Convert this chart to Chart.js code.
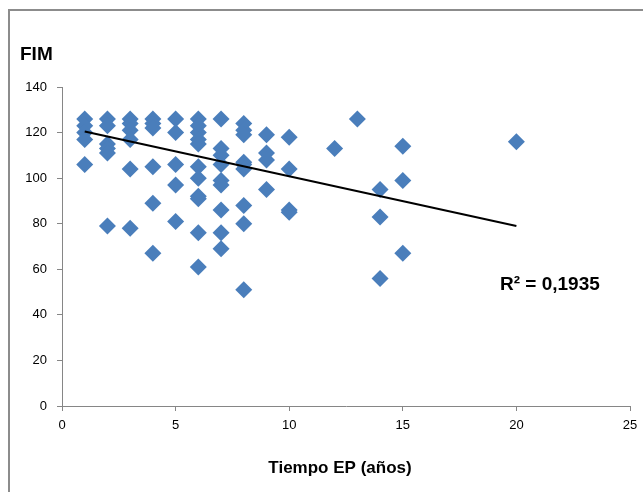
<!DOCTYPE html>
<html>
<head>
<meta charset="utf-8">
<script src="https://cdn.jsdelivr.net/npm/chart.js@4.4.1/dist/chart.umd.min.js"></script>
<style>
  html, body { margin: 0; padding: 0; background: #fff; }
  #wrap { position: relative; width: 643px; height: 492px; overflow: hidden; }
  #frame { position: absolute; left: 8px; top: 9px; width: 700px; height: 600px;
           border-top: 2px solid #8c8c8c; border-left: 2px solid #8c8c8c; }
  canvas { position: absolute; left: 0; top: 0; }
</style>
</head>
<body>
<div id="wrap">
  <div id="frame"></div>
  <canvas id="scatter-chart" width="643" height="492"></canvas>
</div>
<script>
// years since diagnosis (x) and FIM score (y)
const tiempoX = [
  1, 1, 1, 1, 1,
  2, 2, 2, 2, 2, 2,
  3, 3, 3, 3, 3, 3,
  4, 4, 4, 4, 4, 4,
  5, 5, 5, 5, 5,
  6, 6, 6, 6, 6, 6, 6, 6, 6, 6, 6,
  7, 7, 7, 7, 7, 7, 7, 7, 7,
  8, 8, 8, 8, 8, 8, 8, 8, 8,
  9, 9, 9, 9,
  10, 10, 10, 10,
  12, 13,
  14, 14, 14,
  15, 15, 15,
  20
];
const fimY = [
  126, 123, 120, 117, 106,
  126, 123, 115, 113, 111, 79,
  126, 124, 121, 117, 104, 78,
  126, 124, 122, 105, 89, 67,
  126, 120, 106, 97, 81,
  126, 123, 120, 117, 115, 105, 100, 92, 91, 76, 61,
  126, 113, 110, 106, 99, 97, 86, 76, 69,
  124, 121, 119, 107, 106, 104, 88, 80, 51,
  119, 111, 108, 95,
  118, 104, 86, 85,
  113, 126,
  95, 83, 56,
  114, 99, 67,
  116
];
// linear trend line end points
const trendX = [1, 20];
const trendY = [120.5, 79];

const xTicks = [0, 5, 10, 15, 20, 25];
const yTicks = [0, 20, 40, 60, 80, 100, 120, 140];
const r2Label = "R\u00b2 = 0,1935";

const points = tiempoX.map((x, i) => ({ x: x, y: fimY[i] }));
const trend = trendX.map((x, i) => ({ x: x, y: trendY[i] }));

const FONT = '"Liberation Sans Narrow", "Liberation Sans", Arial, sans-serif';
const axisGray = "#868686";

const textPlugin = {
  id: "texts",
  afterDraw(chart) {
    const ctx = chart.ctx;
    ctx.save();
    ctx.fillStyle = "#000";
    ctx.textBaseline = "alphabetic";
    ctx.font = "bold 19px " + FONT;
    ctx.textAlign = "left";
    ctx.fillText("FIM", 20, 60);
    ctx.fillText(r2Label, 500, 290);
    ctx.font = "bold 17px " + FONT;
    ctx.textAlign = "center";
    ctx.fillText("Tiempo EP (a\u00f1os)", 340, 473);
    ctx.restore();
  }
};

const config = {
  type: "scatter",
  data: {
    datasets: [
      {
        label: "FIM",
        data: points,
        pointStyle: "rectRot",
        pointRadius: 8.5,
        pointHoverRadius: 8.5,
        backgroundColor: "#4a7ebb",
        borderColor: "#4a7ebb",
        borderWidth: 0,
        order: 2
      },
      {
        label: "Lineal",
        type: "line",
        data: trend,
        borderColor: "#000",
        borderWidth: 2,
        pointRadius: 0,
        fill: false,
        order: 1
      }
    ]
  },
  options: {
    responsive: false,
    animation: false,
    layout: { padding: { left: 0, top: 87, right: 13, bottom: 0 } },
    plugins: { legend: { display: false }, tooltip: { enabled: false } },
    scales: {
      x: {
        type: "linear",
        min: 0,
        max: 25,
        afterBuildTicks(scale) { scale.ticks = xTicks.map(v => ({ value: v })); },
        afterFit(scale) { scale.height = 86; scale.paddingRight = 0; scale.paddingLeft = 0; },
        border: { color: axisGray, width: 1 },
        grid: { drawOnChartArea: false, color: axisGray, tickLength: 5 },
        ticks: { color: "#000", font: { family: FONT, size: 13 }, padding: 7, maxRotation: 0 }
      },
      y: {
        type: "linear",
        min: 0,
        max: 140,
        afterBuildTicks(scale) { scale.ticks = yTicks.map(v => ({ value: v })); },
        afterFit(scale) { scale.width = 62; },
        border: { color: axisGray, width: 1 },
        grid: { drawOnChartArea: false, color: axisGray, tickLength: 5 },
        ticks: { color: "#000", font: { family: FONT, size: 13 }, padding: 10 }
      }
    }
  },
  plugins: [textPlugin]
};

var ctx = document.getElementById("scatter-chart").getContext("2d");
window.myScatter = new Chart(ctx, config);
</script>
</body>
</html>
